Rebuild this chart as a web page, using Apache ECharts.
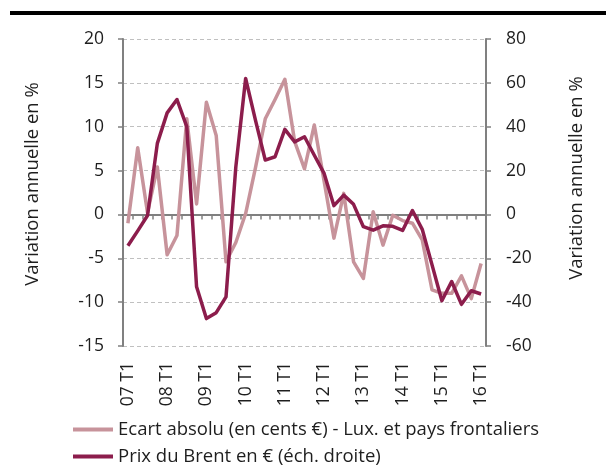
<!DOCTYPE html>
<html>
<head>
<meta charset="utf-8">
<script src="https://cdn.jsdelivr.net/npm/echarts@6/dist/echarts.min.js"></script>
<style>
  html, body { margin: 0; padding: 0; background: #fff; }
  #chart { width: 606px; height: 466px; }
</style>
</head>
<body>
<div id="chart"></div>
<script>
// Quarters from 07 T1 to 16 T1
const quarters = [];
for (let y = 7; y <= 16; y++) {
  for (let q = 1; q <= 4; q++) {
    if (y === 16 && q > 1) break;
    quarters.push((y < 10 ? '0' + y : '' + y) + ' T' + q);
  }
}

// Ecart absolu (en cents €) - Lux. et pays frontaliers, variation annuelle en % (left scale)
const ecartAbsolu = [
  -1.0, 7.6, 0.2, 5.4, -4.6, -2.4, 10.9, 1.2, 12.8, 9.0,
  -5.4, -3.2, 0.1, 5.3, 10.9, 13.1, 15.4, 8.3, 5.2, 10.2,
  3.8, -2.7, 2.4, -5.4, -7.3, 0.3, -3.5, -0.1, -0.7, -1.0,
  -2.9, -8.6, -9.0, -9.0, -7.0, -9.6, -5.6
];

// Prix du Brent en €, variation annuelle en % (right scale)
const brentEuro = [
  -14.3, -7.5, -0.5, 32.4, 46.3, 52.4, 40.0, -33.0, -47.5, -44.8,
  -37.6, 21.7, 62.0, 43.0, 24.8, 26.3, 38.8, 33.1, 35.4, 27.0,
  18.7, 4.0, 8.8, 4.6, -5.6, -7.2, -5.2, -5.4, -7.3, 1.8,
  -6.8, -23.0, -39.4, -30.6, -41.0, -34.8, -36.3
];

const leftTicks = { min: -15, max: 20, interval: 5 };
const rightTicks = { min: -60, max: 80, interval: 20 };

const seriesNames = [
  'Ecart absolu (en cents €) - Lux. et pays frontaliers',
  'Prix du Brent en € (éch. droite)'
];
const axisTitle = 'Variation annuelle en %';

const FONT = '"Open Sans"';
const TXT = '#1e1e1e';
const AXIS = '#808080';
const PINK = '#c7939b';
const WINE = '#8c1d4c';

const chart = echarts.init(document.getElementById('chart'), null, { renderer: 'canvas' });

chart.setOption({
  animation: false,
  backgroundColor: '#ffffff',
  textStyle: { fontFamily: FONT },
  grid: { left: 123, right: 120, top: 39, bottom: 120, containLabel: false },
  graphic: [
    { type: 'rect', shape: { x: 10, y: 11, width: 596, height: 4 }, style: { fill: '#000' } },
    {
      type: 'text', x: 33, y: 184, rotation: Math.PI / 2,
      style: { text: axisTitle, fill: TXT, font: '18.5px ' + FONT, align: 'center', verticalAlign: 'middle' }
    },
    {
      type: 'text', x: 577, y: 178, rotation: Math.PI / 2,
      style: { text: axisTitle, fill: TXT, font: '18.5px ' + FONT, align: 'center', verticalAlign: 'middle' }
    }
  ],
  legend: {
    orient: 'vertical',
    left: 73,
    top: 420,
    padding: 0,
    itemWidth: 40,
    itemHeight: 4,
    itemGap: 8,
    icon: 'rect',
    textStyle: { fontFamily: FONT, fontSize: 18.5, color: TXT },
    data: seriesNames
  },
  xAxis: [
    {
      type: 'category',
      data: quarters,
      position: 'bottom',
      boundaryGap: true,
      axisLine: { show: true, onZero: true, lineStyle: { color: AXIS, width: 2 } },
      axisTick: { show: true, interval: 0, length: 5, lineStyle: { color: AXIS, width: 1.5 } },
      axisLabel: { show: false },
      splitLine: { show: false }
    },
    {
      type: 'category',
      data: quarters,
      position: 'bottom',
      boundaryGap: true,
      axisLine: { show: false, onZero: false },
      axisTick: { show: false },
      axisLabel: {
        show: true, interval: 3, rotate: 90, margin: 16,
        fontFamily: FONT, fontSize: 17.5, color: TXT
      },
      splitLine: { show: false }
    }
  ],
  yAxis: [
    {
      type: 'value',
      position: 'left',
      min: leftTicks.min, max: leftTicks.max, interval: leftTicks.interval,
      axisLine: { show: true, lineStyle: { color: AXIS, width: 2 } },
      axisTick: { show: true, length: 5, lineStyle: { color: AXIS, width: 1.5 } },
      axisLabel: { margin: 19, fontFamily: FONT, fontSize: 17.5, color: TXT },
      splitLine: { show: true, lineStyle: { color: '#c0c0c0', type: [4, 3], width: 1 } }
    },
    {
      type: 'value',
      position: 'right',
      min: rightTicks.min, max: rightTicks.max, interval: rightTicks.interval,
      axisLine: { show: true, lineStyle: { color: AXIS, width: 2 } },
      axisTick: { show: true, length: 5, lineStyle: { color: AXIS, width: 1.5 } },
      axisLabel: { margin: 20, fontFamily: FONT, fontSize: 17.5, color: TXT },
      splitLine: { show: false }
    }
  ],
  series: [
    {
      name: seriesNames[0],
      type: 'line',
      xAxisIndex: 0, yAxisIndex: 0,
      data: ecartAbsolu,
      symbol: 'none',
      lineStyle: { color: PINK, width: 3.5, join: 'round' },
      itemStyle: { color: PINK },
      z: 2
    },
    {
      name: seriesNames[1],
      type: 'line',
      xAxisIndex: 0, yAxisIndex: 1,
      data: brentEuro,
      symbol: 'none',
      lineStyle: { color: WINE, width: 3.5, join: 'round' },
      itemStyle: { color: WINE },
      z: 3
    }
  ]
});
</script>
</body>
</html>
